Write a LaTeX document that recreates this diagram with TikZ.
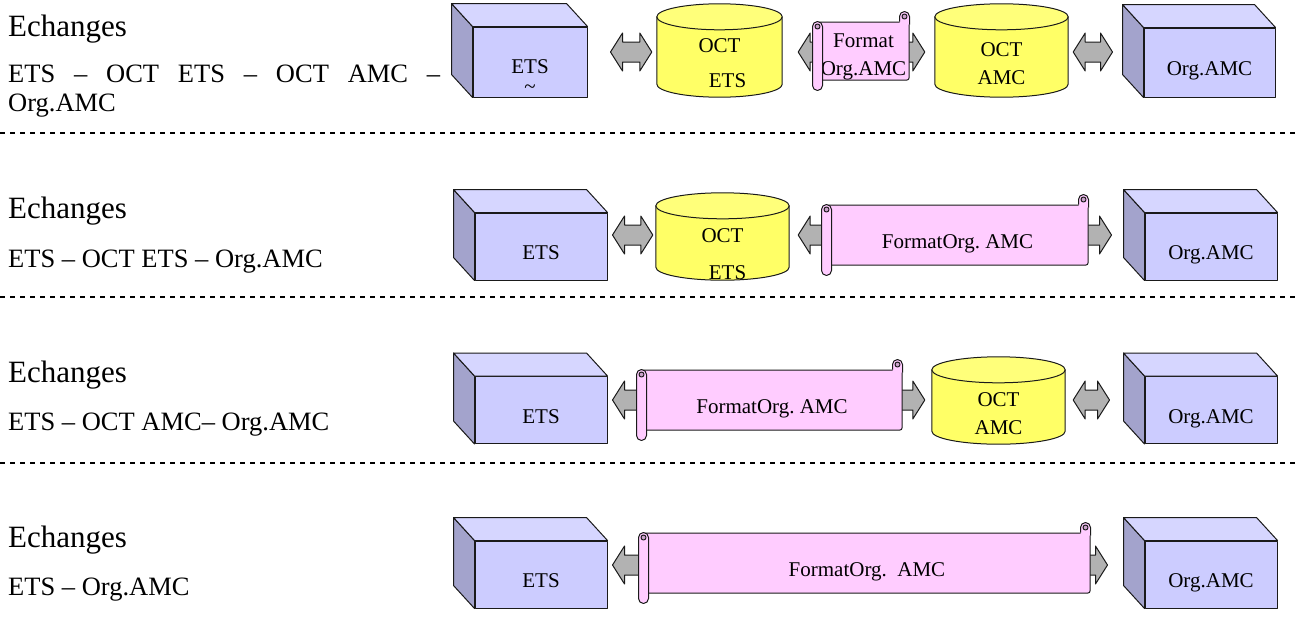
\documentclass[tikz,border=0pt]{standalone}
\usepackage{fontspec}
\setmainfont{Liberation Serif}
\usetikzlibrary{calc,backgrounds}

\definecolor{cubefront}{HTML}{CCCCFF}
\definecolor{cubeside}{HTML}{A3A3CC}
\definecolor{cubetop}{HTML}{D6D6FF}
\definecolor{drumbody}{HTML}{FFFF66}
\definecolor{drumtop}{HTML}{FFFF7A}
\definecolor{scrollpink}{HTML}{FFCCFF}
\definecolor{scrolldark}{HTML}{CCA3CC}
\definecolor{linkgrey}{HTML}{B2B2B2}
\definecolor{edgeline}{HTML}{1A1A1A}

\tikzset{
    shapeline/.style={draw=edgeline, line width=1pt, line join=round},
    lowtext/.style={text height=26pt, text depth=0pt},
    cubeface/.style={shapeline, fill=cubefront, rectangle, align=center, inner sep=0pt, lowtext,
        minimum width=132pt, minimum height=67pt, font=\fontsize{21}{24}\selectfont},
    drumface/.style={rectangle, align=center, inner sep=0pt,
        minimum width=133pt, minimum height=61pt, font=\fontsize{21}{24}\selectfont},
    scrollbody/.style={shapeline, fill=scrollpink, rounded corners=2pt, align=center, inner sep=0pt, lowtext,
        minimum width=260pt, minimum height=60pt, font=\fontsize{21}{24}\selectfont},
    heading/.style={anchor=base west, inner sep=0pt, font=\fontsize{31}{36}\selectfont},
    subline/.style={anchor=base west, inner sep=0pt, font=\fontsize{26.5}{29.5}\selectfont},
    sepline/.style={draw=black, line width=2pt, dash pattern=on 5pt off 5pt},
}

% box with top and side faces, the node is the front face
\newcommand{\cubebox}[4][]{
    \node[cubeface,#1] (#2) at (#3) {#4};
    \filldraw[shapeline, fill=cubeside] (#2.north west) -- ++(-21,-23) -- ($(#2.south west)+(-21,-23)$) -- (#2.south west) -- cycle;
    \filldraw[shapeline, fill=cubetop] (#2.north west) -- ++(-21,-23) -- ($(#2.north east)+(-21,-23)$) -- (#2.north east) -- cycle;
}

% can, the node is the body under the lid
\newcommand{\drumbox}[4][]{
    \node[drumface,#1] (#2) at (#3) {#4};
    \begin{pgfonlayer}{background}
        \filldraw[shapeline, fill=drumbody] let \p1=(#2.west), \p2=(#2.east), \n1={(\x2-\x1)/2} in
            ($(#2.north west)+(0,-13)$) -- ($(#2.south west)+(0,-13)$)
            arc[start angle=180, end angle=360, x radius=\n1, y radius=13pt]
            -- ($(#2.north east)+(0,-13)$) -- cycle;
        \filldraw[shapeline, fill=drumtop] let \p1=(#2.west), \p2=(#2.east), \n1={(\x2-\x1)/2} in
            ($(#2.north)+(0,-13)$) ellipse[x radius=\n1, y radius=13pt];
    \end{pgfonlayer}
}

% horizontal scroll, the node is the sheet
\newcommand{\scrollbox}[4][]{
    \node[scrollbody,#1] (#2) at (#3) {#4};
    \fill[scrollpink] ($(#2.north east)+(-10,3)$) -- ++(0,-8) arc[start angle=180, end angle=360, radius=5] -- ($(#2.north east)+(0,3)$) -- cycle;
    \draw[shapeline] ($(#2.north east)+(-10,0)$) -- ++(0,-5) arc[start angle=180, end angle=360, radius=5] -- ($(#2.north east)+(0,3)$);
    \filldraw[shapeline, fill=scrolldark] ($(#2.north east)+(-5,-5)$) circle[radius=2.5];
    \filldraw[shapeline, fill=scrollpink] ($(#2.north west)+(-5,5)$) -- ($(#2.south west)+(-5,5)$)
        arc[start angle=180, end angle=0, radius=5] -- ($(#2.north west)+(5,5)$)
        arc[start angle=0, end angle=-180, radius=5] -- cycle;
    \filldraw[shapeline, fill=scrolldark] ($(#2.north west)+(0,5)$) circle[radius=2.5];
}

% grey double arrow: from, to, level, gap from, gap to
\newcommand{\linkarrow}[5]{
    \filldraw[shapeline, fill=linkgrey] let \p1=(#1.east), \p2=(#2.west), \p3=(#3) in
        (\x1+#4pt,\y3) -- (\x1+#4pt+12pt,\y3+19pt) -- (\x1+#4pt+12pt,\y3+10pt)
        -- (\x2-#5pt-12pt,\y3+10pt) -- (\x2-#5pt-12pt,\y3+19pt) -- (\x2-#5pt,\y3)
        -- (\x2-#5pt-12pt,\y3-19pt) -- (\x2-#5pt-12pt,\y3-10pt)
        -- (\x1+#4pt+12pt,\y3-10pt) -- (\x1+#4pt+12pt,\y3-19pt) -- cycle;
}

\begin{document}
\begin{tikzpicture}[x=1pt, y=-1pt]
    \useasboundingbox (0,0) rectangle (1298,627);

    \coordinate (lvl1) at (0,52);
    \coordinate (lvl2) at (0,235);
    \coordinate (lvl3) at (0,400);
    \coordinate (lvl4) at (0,565);

    % row 1
    \node[heading] (ech1) at (8,36) {Echanges};
    \node[subline, text width=432pt, align=justify] (desc1) at (8,82) {ETS – OCT ETS – OCT AMC –\linebreak Org.AMC};
    \cubebox[minimum width=114pt, minimum height=70pt, text height=62pt]{ets1}{530,62}{ETS\\[-4pt]\textasciitilde}
    \drumbox[minimum width=125pt, minimum height=67pt]{oct1}{719.5,63.5}{OCT\\[11pt]\hspace*{16pt}ETS}
    \drumbox[minimum height=67pt]{amc1}{1001.5,63.5}{OCT\\[4pt]AMC}
    \cubebox[minimum width=131pt, minimum height=69pt]{org1}{1209.5,62.5}{Org.AMC}
    \linkarrow{ets1}{oct1}{lvl1}{23}{5}
    \linkarrow{oct1}{amc1}{lvl1}{16}{10}
    \linkarrow{amc1}{org1}{lvl1}{5}{31}
    \scrollbox[minimum width=91pt, minimum height=58pt, text height=48pt]{fmt1}{863.5,51}{Format\\[4pt]Org.AMC}
    \draw[sepline] (0,133) -- (1298,133);

    % row 2
    \node[heading] (ech2) at (8,218) {Echanges};
    \node[subline] (desc2) at (8,267) {ETS – OCT ETS – Org.AMC};
    \cubebox{ets2}{541,246.5}{ETS}
    \drumbox[text height=59pt, text depth=0pt]{oct2}{722.5,249.5}{OCT\\[13pt]\hspace*{10pt}ETS}
    \cubebox{org2}{1211,246.5}{Org.AMC}
    \linkarrow{ets2}{oct2}{lvl2}{5}{3}
    \linkarrow{oct2}{org2}{lvl2}{9}{33}
    \scrollbox[minimum width=261pt]{fmt2}{957.5,235}{FormatOrg.\ AMC}
    \draw[sepline] (0,297) -- (1298,297);

    % row 3
    \node[heading] (ech3) at (8,382) {Echanges};
    \node[subline] (desc3) at (8,430) {ETS – OCT AMC– Org.AMC};
    \cubebox{ets3}{541,410}{ETS}
    \drumbox{amc3}{998.5,413.5}{OCT\\[4pt]AMC}
    \cubebox{org3}{1211,410}{Org.AMC}
    \linkarrow{ets3}{amc3}{lvl3}{5}{7}
    \linkarrow{amc3}{org3}{lvl3}{8}{35}
    \scrollbox{fmt3}{772,400}{FormatOrg.\ AMC}
    \draw[sepline] (0,463) -- (1298,463);

    % row 4
    \node[heading] (ech4) at (8,547) {Echanges};
    \node[subline] (desc4) at (8,595) {ETS – Org.AMC};
    \cubebox{ets4}{541,574.5}{ETS}
    \cubebox{org4}{1211,574.5}{Org.AMC}
    \linkarrow{ets4}{org4}{lvl4}{5}{37}
    \scrollbox[minimum width=446pt]{fmt4}{867,563}{FormatOrg.\ \ AMC}
\end{tikzpicture}
\end{document}
